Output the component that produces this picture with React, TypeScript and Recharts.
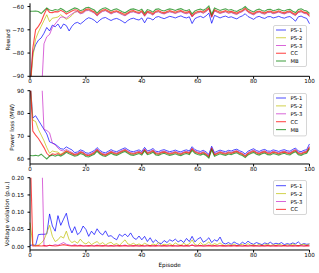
import React from "react";
import { LineChart, Line, XAxis, YAxis, Legend } from "recharts";

const FONT = "DejaVu Sans";
const EPISODES = Array.from({ length: 101 }, (_, i) => i);
const X_TICKS = [0, 20, 40, 60, 80, 100];

// Reward per episode
const REWARD_PS1 = [
  -96, -80, -76.5, -74.5, -73.5, -71.5, -69, -70.5, -68, -68.7,
  -67.5, -69.5, -67.5, -68.2, -70.5, -68.5, -67.2, -66.8, -67.5, -66.6,
  -65.5, -64.8, -65.2, -65.9, -67.0, -65.8, -65.0, -64.7, -65.4, -66.0,
  -65.4, -65.1, -65.6, -66.3, -67.1, -66.0, -65.3, -65.0, -65.5, -65.8,
  -64.9, -67.0, -64.9, -65.1, -65.8, -64.6, -64.3, -64.8, -65.2, -64.7,
  -64.2, -64.5, -64.9, -64.4, -64.0, -64.6, -64.9, -64.4, -67.3, -65.2,
  -64.6, -64.2, -64.8, -64.0, -62.8, -67.2, -63.8, -64.3, -64.9, -64.4,
  -64.1, -64.7, -64.4, -64.9, -65.3, -64.5, -64.0, -63.1, -64.3, -64.9,
  -65.5, -64.6, -64.2, -64.8, -65.1, -64.4, -64.3, -64.9, -64.6, -64.2,
  -64.7, -65.0, -64.5, -64.3, -65.2, -66.3, -64.4, -64.1, -64.7, -65.1,
  -67.4,
];
const REWARD_PS2 = [
  -96, -82, -74, -71, -68.5, -66, -63.5, -66.5, -65, -64.8,
  -64.5, -63.5, -64.5, -65.5, -64.8, -63.8, -62.5, -62.0, -62.9, -62.5,
  -61.6, -61.4, -62.0, -62.6, -63.9, -62.7, -61.9, -61.6, -62.3, -63.0,
  -62.4, -62.1, -62.7, -63.3, -63.8, -63.0, -62.3, -62.1, -62.5, -62.9,
  -62.2, -64.0, -62.4, -62.8, -63.5, -62.3, -62.1, -62.7, -63.0, -62.5,
  -62.1, -62.4, -62.8, -62.3, -62.0, -62.6, -62.9, -62.4, -64.3, -63.0,
  -62.5, -62.2, -62.7, -62.0, -60.9, -64.5, -61.7, -62.3, -62.8, -62.4,
  -62.1, -62.7, -62.4, -62.9, -63.2, -62.5, -62.0, -61.1, -62.3, -62.9,
  -63.4, -62.6, -62.2, -62.8, -63.1, -62.4, -62.3, -62.9, -62.6, -62.2,
  -62.7, -63.0, -62.5, -62.3, -63.1, -63.7, -62.4, -62.1, -62.7, -63.0,
  -64.1,
];
const REWARD_PS3 = [
  -100, -100, -100, -100, -100, -76, -73, -72, -69, -67.5,
  -66, -64.5, -64.5, -65, -64, -63.2, -62.3, -62.2, -63.1, -62.8,
  -61.8, -61.7, -62.2, -62.8, -64.1, -62.9, -62.1, -61.8, -62.5, -63.2,
  -62.6, -62.3, -62.9, -63.5, -64.0, -63.2, -62.5, -62.3, -62.7, -63.1,
  -62.4, -64.2, -62.6, -63.0, -63.7, -62.5, -62.3, -62.9, -63.2, -62.7,
  -62.3, -62.6, -63.0, -62.5, -62.2, -62.8, -63.1, -62.6, -64.5, -63.2,
  -62.7, -62.4, -62.9, -62.2, -61.1, -64.7, -61.9, -62.5, -63.0, -62.6,
  -62.3, -62.9, -62.6, -63.1, -63.4, -62.7, -62.2, -61.3, -62.5, -63.1,
  -63.6, -62.8, -62.4, -63.0, -63.3, -62.6, -62.5, -63.1, -62.8, -62.4,
  -62.9, -63.2, -62.7, -62.5, -63.3, -63.9, -62.6, -62.3, -62.9, -63.2,
  -64.3,
];
const REWARD_CC = [
  -96, -78, -70, -68.5, -66.5, -63.5, -61.0, -62.5, -62.6, -62.2,
  -62.3, -61.6, -62.2, -63.2, -62.6, -61.9, -61.4, -61.6, -62.5, -62.1,
  -61.2, -61.0, -61.7, -62.2, -63.5, -62.3, -61.5, -61.3, -61.9, -62.6,
  -62.0, -61.8, -62.3, -62.9, -63.4, -62.7, -61.9, -61.7, -62.2, -62.5,
  -61.8, -63.6, -62.1, -62.4, -63.1, -62.0, -61.7, -62.3, -62.7, -62.1,
  -61.7, -62.1, -62.4, -61.9, -61.7, -62.2, -62.5, -62.0, -64.0, -62.6,
  -62.1, -61.9, -62.3, -61.6, -60.6, -64.1, -61.4, -61.9, -62.4, -62.1,
  -61.7, -62.3, -62.1, -62.5, -62.8, -62.1, -61.7, -60.7, -61.9, -62.6,
  -63.0, -62.2, -61.9, -62.4, -62.7, -62.1, -61.9, -62.5, -62.3, -61.8,
  -62.3, -62.7, -62.1, -61.9, -62.8, -63.3, -62.1, -61.7, -62.4, -62.6,
  -63.8,
];
const REWARD_MB = [
  -62.0, -62.0, -61.9, -62.1, -63.0, -61.8, -60.6, -61.5, -61.8, -61.3,
  -61.6, -60.8, -61.5, -62.4, -61.8, -61.2, -60.6, -60.9, -61.8, -61.4,
  -60.5, -60.3, -60.9, -61.5, -62.8, -61.6, -60.8, -60.5, -61.2, -61.9,
  -61.3, -61.0, -61.6, -62.2, -62.7, -61.9, -61.2, -61.0, -61.4, -61.8,
  -61.1, -62.9, -61.3, -61.7, -62.4, -61.2, -61.0, -61.6, -61.9, -61.4,
  -61.0, -61.3, -61.7, -61.2, -60.9, -61.5, -61.8, -61.3, -63.2, -61.9,
  -61.4, -61.1, -61.6, -60.9, -59.8, -63.4, -60.6, -61.2, -61.7, -61.3,
  -61.0, -61.6, -61.3, -61.8, -62.1, -61.4, -60.9, -60.0, -61.2, -61.8,
  -62.3, -61.5, -61.1, -61.7, -62.0, -61.3, -61.2, -61.8, -61.5, -61.1,
  -61.6, -61.9, -61.4, -61.2, -62.0, -62.6, -61.3, -61.0, -61.6, -61.9,
  -63.0,
];

// Power loss (MW)
const LOSS_PS1 = [
  95, 78, 79, 77, 75, 73, 71, 67.5, 67, 66.5,
  65.5, 64.5, 64.3, 65.3, 64.6, 64.0, 62.8, 63.1, 64.0, 63.6,
  62.7, 62.5, 63.1, 63.7, 65.0, 63.8, 63.0, 62.7, 63.4, 64.1,
  63.5, 63.2, 63.8, 64.4, 64.9, 64.1, 63.4, 63.2, 63.6, 64.0,
  63.3, 65.1, 63.5, 63.9, 64.6, 63.4, 63.2, 63.8, 64.1, 63.6,
  63.2, 63.5, 63.9, 63.4, 63.1, 63.7, 64.0, 63.5, 65.4, 64.1,
  63.6, 63.3, 63.8, 63.1, 62.0, 65.6, 62.8, 63.4, 63.9, 63.5,
  63.2, 63.8, 63.5, 64.0, 64.3, 63.6, 63.1, 62.2, 63.4, 64.0,
  64.5, 63.7, 63.3, 63.9, 64.2, 63.5, 63.4, 64.0, 63.7, 63.3,
  63.8, 64.1, 63.6, 63.4, 64.2, 64.8, 63.5, 63.2, 63.8, 64.1,
  66.6,
];
const LOSS_PS2 = [
  95, 77, 76.5, 73, 70.5, 68, 65, 62.5, 63.5, 63.2,
  63.0, 62.1, 62.8, 63.7, 63.1, 62.6, 62.0, 62.3, 63.2, 62.8,
  61.9, 61.7, 62.3, 62.9, 64.2, 63.0, 62.2, 61.9, 62.6, 63.3,
  62.7, 62.4, 63.0, 63.6, 64.1, 63.3, 62.6, 62.4, 62.8, 63.2,
  62.5, 64.3, 62.7, 63.1, 63.8, 62.6, 62.4, 63.0, 63.3, 62.8,
  62.4, 62.7, 63.1, 62.6, 62.3, 62.9, 63.2, 62.7, 64.6, 63.3,
  62.8, 62.5, 63.0, 62.3, 61.2, 64.8, 62.0, 62.6, 63.1, 62.7,
  62.4, 63.0, 62.7, 63.2, 63.5, 62.8, 62.3, 61.4, 62.6, 63.2,
  63.7, 62.9, 62.5, 63.1, 63.4, 62.7, 62.6, 63.2, 62.9, 62.5,
  63.0, 63.3, 62.8, 62.6, 63.4, 64.0, 62.7, 62.4, 63.0, 63.3,
  65.3,
];
const LOSS_PS3 = [
  100, 100, 100, 100, 100, 73, 72.5, 71.5, 67, 66.2,
  64.8, 63.8, 63.5, 64.2, 63.5, 62.9, 62.2, 62.5, 63.4, 63.0,
  62.1, 61.9, 62.5, 63.1, 64.4, 63.2, 62.4, 62.1, 62.8, 63.5,
  62.9, 62.6, 63.2, 63.8, 64.3, 63.5, 62.8, 62.6, 63.0, 63.4,
  62.7, 64.5, 62.9, 63.3, 64.0, 62.8, 62.6, 63.2, 63.5, 63.0,
  62.6, 62.9, 63.3, 62.8, 62.5, 63.1, 63.4, 62.9, 64.8, 63.5,
  63.0, 62.7, 63.2, 62.5, 61.4, 65.0, 62.2, 62.8, 63.3, 62.9,
  62.6, 63.2, 62.9, 63.4, 63.7, 63.0, 62.5, 61.6, 62.8, 63.4,
  63.9, 63.1, 62.7, 63.3, 63.6, 62.9, 62.8, 63.4, 63.1, 62.7,
  63.2, 63.5, 63.0, 62.8, 63.6, 64.2, 62.9, 62.6, 63.2, 63.5,
  65.5,
];
const LOSS_CC = [
  95, 72.3, 70.5, 69, 67, 65, 62.5, 61.3, 62.3, 62.0,
  62.4, 61.8, 62.5, 63.4, 62.8, 62.3, 61.7, 62.0, 62.9, 62.5,
  61.6, 61.4, 62.0, 62.6, 63.9, 62.7, 61.9, 61.6, 62.3, 63.0,
  62.4, 62.1, 62.7, 63.3, 63.8, 63.0, 62.3, 62.1, 62.5, 62.9,
  62.2, 64.0, 62.4, 62.8, 63.5, 62.3, 62.1, 62.7, 63.0, 62.5,
  62.1, 62.4, 62.8, 62.3, 62.0, 62.6, 62.9, 62.4, 64.3, 63.0,
  62.5, 62.2, 62.7, 62.0, 60.9, 64.5, 61.7, 62.3, 62.8, 62.4,
  62.1, 62.7, 62.4, 62.9, 63.2, 62.5, 62.0, 61.1, 62.3, 62.9,
  63.4, 62.6, 62.2, 62.8, 63.1, 62.4, 62.3, 62.9, 62.6, 62.2,
  62.7, 63.0, 62.5, 62.3, 63.1, 63.7, 62.4, 62.1, 62.7, 63.0,
  65.0,
];
const LOSS_MB = [
  61.5, 61.4, 61.6, 61.3, 62.1, 61.0, 60.0, 61.3, 61.7, 61.2,
  61.8, 61.3, 62.0, 62.9, 62.3, 61.8, 61.2, 61.5, 62.4, 62.0,
  61.1, 60.9, 61.5, 62.1, 63.4, 62.2, 61.4, 61.1, 61.8, 62.5,
  61.9, 61.6, 62.2, 62.8, 63.3, 62.5, 61.8, 61.6, 62.0, 62.4,
  61.7, 63.5, 61.9, 62.3, 63.0, 61.8, 61.6, 62.2, 62.5, 62.0,
  61.6, 61.9, 62.3, 61.8, 61.5, 62.1, 62.4, 61.9, 63.8, 62.5,
  62.0, 61.7, 62.2, 61.5, 60.4, 64.0, 61.2, 61.8, 62.3, 61.9,
  61.6, 62.2, 61.9, 62.4, 62.7, 62.0, 61.5, 60.6, 61.8, 62.4,
  62.9, 62.1, 61.7, 62.3, 62.6, 61.9, 61.8, 62.4, 62.1, 61.7,
  62.2, 62.5, 62.0, 61.8, 62.6, 63.2, 61.9, 61.6, 62.2, 62.5,
  64.5,
];

// Voltage violation (p.u.)
const VOLT_PS1 = [
  0.004, 0.005, 0.004, 0.035, 0.036, 0.036, 0.037, 0.095, 0.06, 0.045,
  0.09, 0.062, 0.08, 0.097, 0.06, 0.04, 0.058, 0.035, 0.042, 0.06,
  0.05, 0.03, 0.045, 0.035, 0.052, 0.04, 0.034, 0.046, 0.03, 0.032,
  0.025, 0.02, 0.036, 0.03, 0.037, 0.029, 0.04, 0.026, 0.021, 0.031,
  0.02, 0.03, 0.015, 0.026, 0.012, 0.02, 0.011, 0.009, 0.018, 0.012,
  0.02, 0.016, 0.022, 0.014, 0.019, 0.012, 0.024, 0.015, 0.03, 0.014,
  0.022, 0.027, 0.013, 0.018, 0.026, 0.012, 0.02, 0.016, 0.028, 0.011,
  0.008, 0.012, 0.007, 0.014, 0.009, 0.006, 0.013, 0.008, 0.016, 0.01,
  0.007, 0.012, 0.009, 0.006, 0.011, 0.008, 0.013, 0.007, 0.01, 0.008,
  0.012, 0.006, 0.009, 0.007, 0.011, 0.008, 0.014, 0.006, 0.009, 0.007,
  0.008,
];
const VOLT_PS2 = [
  0.07, 0.005, 0.003, 0.005, 0.01, 0.02, 0.04, 0.062, 0.03, 0.015,
  0.02, 0.03, 0.025, 0.045, 0.02, 0.012, 0.016, 0.01, 0.022, 0.012,
  0.008, 0.014, 0.006, 0.011, 0.015, 0.007, 0.012, 0.005, 0.01, 0.013,
  0.006, 0.009, 0.004, 0.012, 0.02, 0.008, 0.006, 0.01, 0.005, 0.008,
  0.004, 0.01, 0.006, 0.003, 0.008, 0.005, 0.012, 0.004, 0.007, 0.005,
  0.009, 0.004, 0.011, 0.006, 0.004, 0.01, 0.005, 0.008, 0.02, 0.006,
  0.004, 0.012, 0.005, 0.007, 0.014, 0.004, 0.009, 0.006, 0.011, 0.005,
  0.003, 0.006, 0.004, 0.008, 0.003, 0.005, 0.007, 0.003, 0.009, 0.004,
  0.006, 0.003, 0.007, 0.004, 0.005, 0.008, 0.003, 0.006, 0.004, 0.007,
  0.005, 0.003, 0.006, 0.004, 0.008, 0.005, 0.003, 0.006, 0.007, 0.004,
  0.008,
];
const VOLT_PS3 = [
  0.35, 0.35, 0.35, 0.35, 0.35, 0.003, 0.002, 0.004, 0.003, 0.006,
  0.004, 0.008, 0.012, 0.007, 0.005, 0.003, 0.006, 0.003, 0.005, 0.002,
  0.003, 0.002, 0.004, 0.002, 0.005, 0.003, 0.002, 0.004, 0.002, 0.003,
  0.002, 0.004, 0.002, 0.003, 0.005, 0.002, 0.003, 0.002, 0.004, 0.002,
  0.003, 0.002, 0.004, 0.002, 0.003, 0.002, 0.005, 0.002, 0.003, 0.002,
  0.004, 0.002, 0.003, 0.002, 0.004, 0.002, 0.003, 0.002, 0.006, 0.002,
  0.003, 0.004, 0.002, 0.003, 0.005, 0.002, 0.003, 0.002, 0.004, 0.002,
  0.002, 0.003, 0.002, 0.004, 0.002, 0.003, 0.002, 0.003, 0.002, 0.004,
  0.002, 0.003, 0.002, 0.003, 0.002, 0.004, 0.002, 0.003, 0.002, 0.003,
  0.002, 0.004, 0.002, 0.003, 0.002, 0.003, 0.002, 0.004, 0.002, 0.003,
  0.003,
];
const VOLT_CC = [
  0.3, 0.002, 0.002, 0.003, 0.002, 0.003, 0.002, 0.004, 0.003, 0.002,
  0.003, 0.004, 0.006, 0.004, 0.003, 0.002, 0.003, 0.002, 0.003, 0.002,
  0.002, 0.003, 0.002, 0.002, 0.003, 0.002, 0.003, 0.002, 0.002, 0.003,
  0.002, 0.002, 0.003, 0.002, 0.003, 0.002, 0.002, 0.003, 0.002, 0.002,
  0.003, 0.002, 0.002, 0.003, 0.002, 0.003, 0.002, 0.002, 0.003, 0.002,
  0.002, 0.003, 0.002, 0.002, 0.003, 0.002, 0.003, 0.002, 0.004, 0.002,
  0.002, 0.003, 0.002, 0.002, 0.003, 0.002, 0.003, 0.002, 0.002, 0.003,
  0.002, 0.002, 0.003, 0.002, 0.003, 0.002, 0.002, 0.003, 0.002, 0.002,
  0.003, 0.002, 0.002, 0.003, 0.002, 0.003, 0.002, 0.002, 0.003, 0.002,
  0.002, 0.003, 0.002, 0.002, 0.003, 0.002, 0.003, 0.002, 0.002, 0.003,
  0.002,
];

const SERIES = [
  { key: "ps1", name: "PS-1", color: "#0000ff", opacity: 0.7, width: 1 },
  { key: "ps2", name: "PS-2", color: "#bfbf00", opacity: 0.7, width: 1 },
  { key: "ps3", name: "PS-3", color: "#bf00bf", opacity: 0.6, width: 1 },
  { key: "cc", name: "CC", color: "#ff0000", opacity: 0.7, width: 1.1 },
  { key: "mb", name: "MB", color: "#008000", opacity: 0.7, width: 1.1 },
];

function buildRows(cols: Record<string, number[]>) {
  return EPISODES.map((ep, i) => {
    const row: Record<string, number> = { ep };
    Object.keys(cols).forEach((k) => (row[k] = cols[k][i]));
    return row;
  });
}

const rewardRows = buildRows({ ps1: REWARD_PS1, ps2: REWARD_PS2, ps3: REWARD_PS3, cc: REWARD_CC, mb: REWARD_MB });
const lossRows = buildRows({ ps1: LOSS_PS1, ps2: LOSS_PS2, ps3: LOSS_PS3, cc: LOSS_CC, mb: LOSS_MB });
const voltRows = buildRows({ ps1: VOLT_PS1, ps2: VOLT_PS2, ps3: VOLT_PS3, cc: VOLT_CC });

const minus = (v: number) => String(v).replace("-", "\u2212");

function LegendBox({ items, height, firstRow, step }: any) {
  return (
    <svg width={34} height={height} style={{ display: "block" }}>
      <rect x={0.5} y={0.5} width={33} height={height - 1} rx={1.5} fill="#fff" fillOpacity={0.8} stroke="#cccccc" strokeWidth={0.8} />
      {items.map((s: any, i: number) => {
        const y = firstRow + i * step;
        return (
          <g key={s.key}>
            <line x1={3} x2={13} y1={y} y2={y} stroke={s.color} strokeOpacity={s.opacity} strokeWidth={s.width} />
            <text x={17.5} y={y} dominantBaseline="central" fontSize={5.3} fontFamily={FONT} fill="#000">
              {s.name}
            </text>
          </g>
        );
      })}
    </svg>
  );
}

function Panel({ top, height, marginTop, rows, series, yDomain, yTicks, yFormat, legend }: any) {
  const tickStyle = { fontSize: 5.6, fill: "#000", fontFamily: FONT };
  return (
    <div style={{ position: "absolute", left: 0, top }}>
      <LineChart width={319} height={height} data={rows} margin={{ top: marginTop, right: 9.5, bottom: 0, left: 0 }}>
        <XAxis
          dataKey="ep"
          type="number"
          domain={[0, 100]}
          ticks={X_TICKS}
          interval={0}
          height={12.7}
          tickSize={2.5}
          tickMargin={0.5}
          tick={tickStyle}
          stroke="#000"
        />
        <XAxis xAxisId="top" orientation="top" dataKey="ep" type="number" domain={[0, 100]} height={0} tick={false} tickLine={false} stroke="#000" />
        <YAxis
          type="number"
          domain={yDomain}
          allowDataOverflow
          ticks={yTicks}
          interval={0}
          tickFormatter={yFormat}
          width={30}
          tickSize={2.5}
          tickMargin={3.5}
          tick={tickStyle}
          stroke="#000"
        />
        <YAxis yAxisId="right" orientation="right" type="number" domain={yDomain} allowDataOverflow width={0} tick={false} tickLine={false} stroke="#000" />
        {series.map((s: any) => (
          <Line
            key={s.key}
            dataKey={s.key}
            name={s.name}
            type="linear"
            stroke={s.color}
            strokeOpacity={s.opacity}
            strokeWidth={s.width}
            dot={false}
            isAnimationActive={false}
          />
        ))}
        <Legend
          layout="vertical"
          align="center"
          verticalAlign="middle"
          wrapperStyle={{ left: 273, top: legend.top, width: 34, height: legend.height }}
          content={() => <LegendBox items={series} height={legend.height} firstRow={legend.first} step={legend.step} />}
        />
      </LineChart>
    </div>
  );
}

// axis titles, placed like matplotlib's
const TITLES = [
  { text: "Reward", x: 8.3, y: 39.8, rotate: true },
  { text: "Power loss (MW)", x: 11.7, y: 127.4, rotate: true },
  { text: "Voltage violation (p.u.)", x: 6.7, y: 213.9, rotate: true },
  { text: "Episode", x: 169.7, y: 265, rotate: false },
];

export default function App() {
  return (
    <div style={{ position: "absolute", left: 0, top: 0, width: 319, height: 273, background: "#fff", fontFamily: FONT }}>
      <Panel
        top={0}
        height={89}
        marginTop={3.3}
        rows={rewardRows}
        series={SERIES}
        yDomain={[-90, -58.6]}
        yTicks={[-90, -80, -70, -60]}
        yFormat={minus}
        legend={{ top: 25, height: 42, first: 5, step: 7.75 }}
      />
      <Panel
        top={87}
        height={89.7}
        marginTop={3.7}
        rows={lossRows}
        series={SERIES}
        yDomain={[57.8, 90]}
        yTicks={[60, 70, 80, 90]}
        yFormat={minus}
        legend={{ top: 6.3, height: 43.4, first: 5, step: 7.9 }}
      />
      <Panel
        top={174}
        height={88.7}
        marginTop={3.7}
        rows={voltRows}
        series={SERIES.slice(0, 4)}
        yDomain={[-0.0095, 0.2]}
        yTicks={[0, 0.05, 0.1, 0.15, 0.2]}
        yFormat={(v: number) => v.toFixed(2)}
        legend={{ top: 6, height: 35, first: 5.7, step: 7.9 }}
      />
      <svg width={319} height={273} style={{ position: "absolute", left: 0, top: 0, pointerEvents: "none" }}>
        {TITLES.map((t) => (
          <text
            key={t.text}
            x={t.x}
            y={t.y}
            transform={t.rotate ? `rotate(-90 ${t.x} ${t.y})` : undefined}
            textAnchor="middle"
            dominantBaseline="central"
            fontSize={5.7}
            fontFamily={FONT}
            fill="#000"
          >
            {t.text}
          </text>
        ))}
      </svg>
    </div>
  );
}
